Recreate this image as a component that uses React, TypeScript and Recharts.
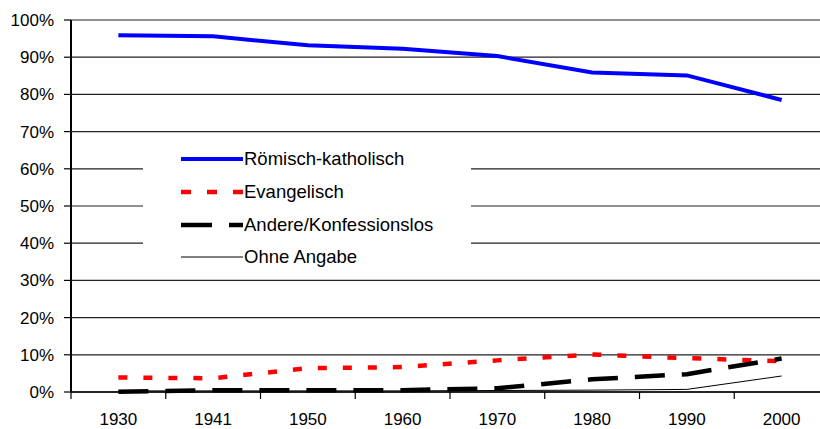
import React from 'react';
import { LineChart, Line, XAxis, YAxis, CartesianGrid, Legend } from 'recharts';

const years = ['1930', '1941', '1950', '1960', '1970', '1980', '1990', '2000'];
const katholisch = [95.9, 95.6, 93.2, 92.3, 90.3, 85.9, 85.1, 78.5];
const evangelisch = [3.9, 3.7, 6.4, 6.7, 8.5, 10.1, 9.1, 8.3];
const andere = [0.1, 0.5, 0.5, 0.5, 1.0, 3.4, 4.8, 9.0];
const ohneAngabe = [0.3, 0.3, 0.3, 0.3, 0.4, 0.5, 0.7, 4.3];
const yTicks = [0, 10, 20, 30, 40, 50, 60, 70, 80, 90, 100];

const data = years.map((year, i) => ({
  year,
  katholisch: katholisch[i],
  evangelisch: evangelisch[i],
  andere: andere[i],
  ohne: ohneAngabe[i],
}));

const FONT = '"Liberation Sans", Arial, sans-serif';

const series = [
  { key: 'katholisch', name: 'Römisch-katholisch', color: '#0000ff', width: 4, dash: undefined },
  { key: 'evangelisch', name: 'Evangelisch', color: '#ff0000', width: 4.5, dash: '9 16' },
  { key: 'andere', name: 'Andere/Konfessionslos', color: '#000000', width: 4.5, dash: '30 17' },
  { key: 'ohne', name: 'Ohne Angabe', color: '#000000', width: 1, dash: undefined },
];

// category label centred in its band, tick mark on the band's left edge
function YearTick(props: any) {
  const { x, y, payload } = props;
  const half = payload?.offset ?? 0;
  return (
    <g>
      <line x1={x - half} x2={x - half} y1={y} y2={y + 7} stroke="#000" strokeWidth={1.2} />
      <text x={x} y={y + 33} textAnchor="middle" fill="#000" fontSize={17} fontFamily={FONT}>
        {payload.value}
      </text>
    </g>
  );
}

function LegendBox() {
  return (
    <div style={{ width: '100%', height: '100%', background: '#fff', paddingTop: 3, boxSizing: 'border-box' }}>
      {series.map((s) => (
        <div key={s.key} style={{ display: 'flex', alignItems: 'center', height: 32.7, marginLeft: 38 }}>
          <svg width={62} height={10} style={{ display: 'block' }}>
            <line
              x1={0}
              x2={62}
              y1={5}
              y2={5}
              stroke={s.color}
              strokeWidth={s.width}
              strokeDasharray={s.key === 'evangelisch' ? '10 16' : s.key === 'andere' ? '31 17' : undefined}
            />
          </svg>
          <span style={{ fontFamily: FONT, fontSize: 18.5, color: '#000', marginLeft: 1 }}>{s.name}</span>
        </div>
      ))}
    </div>
  );
}

export default function App() {
  return (
    <div style={{ position: 'absolute', left: 0, top: 0, width: 820, height: 429, overflow: 'hidden', background: '#fff' }}>
      <LineChart width={840} height={429} data={data} margin={{ top: 20, right: 11, left: 0, bottom: 0 }}>
        <CartesianGrid vertical={false} stroke="#222" strokeWidth={1.2} />
        <XAxis
          dataKey="year"
          scale="band"
          height={37}
          tickLine={false}
          tickSize={0}
          tickMargin={0}
          axisLine={{ stroke: '#000', strokeWidth: 1.5 }}
          tick={<YearTick />}
          interval={0}
        />
        <YAxis
          width={71}
          domain={[0, 100]}
          ticks={yTicks}
          tickFormatter={(v) => `${v}%`}
          tickSize={7}
          tickMargin={10}
          axisLine={{ stroke: '#000', strokeWidth: 2 }}
          tickLine={{ stroke: '#000', strokeWidth: 1.2 }}
          tick={{ fill: '#000', fontSize: 17, fontFamily: FONT }}
        />
        <Legend
          layout="vertical"
          align="center"
          verticalAlign="middle"
          content={<LegendBox />}
          wrapperStyle={{ left: 143, top: 140, width: 328, height: 136 }}
        />
        {series.map((s) => (
          <Line
            key={s.key}
            type="linear"
            dataKey={s.key}
            name={s.name}
            stroke={s.color}
            strokeWidth={s.width}
            strokeDasharray={s.dash}
            dot={false}
            activeDot={false}
            isAnimationActive={false}
          />
        ))}
      </LineChart>
    </div>
  );
}
